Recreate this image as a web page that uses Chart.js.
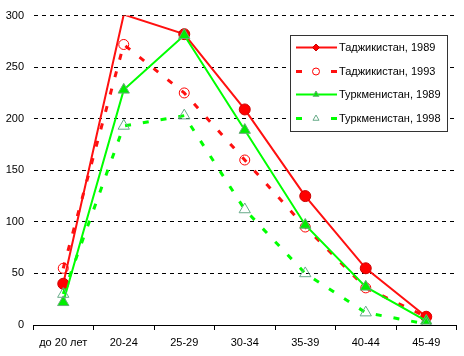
<!DOCTYPE html>
<html><head><meta charset="utf-8">
<script src="https://cdn.jsdelivr.net/npm/chart.js@4"></script>
<style>html,body{margin:0;padding:0;background:#fff}#wrap{width:464px;height:356px}</style>
</head><body><div id="wrap"><canvas id="c" width="464" height="356"></canvas></div>
<script>
const categories = ['до 20 лет','20-24','25-29','30-34','35-39','40-44','45-49'];
const tajik1989 = [40, 301, 282, 209, 125, 55, 8];
const tajik1993 = [55, 272, 225, 160, 95, 36, 8];
const turkm1989 = [22, 228, 281, 189, 97, 37, 4];
const turkm1998 = [30, 193, 203, 112, 50, 12, 1];
const seriesNames = ['Таджикистан, 1989','Таджикистан, 1993','Туркменистан, 1989','Туркменистан, 1998'];
const yTicks = [0,50,100,150,200,250,300];

const FONT = 'Liberation Sans, Arial, sans-serif';
Chart.defaults.font.family = FONT;
Chart.defaults.font.size = 11;
Chart.defaults.color = '#000';

const datasets = [
  {label: seriesNames[0], data: tajik1989, borderColor:'#ff1010', borderWidth:2,
   pointStyle:'circle', pointRadius:[5.5,0,5.5,5.5,5.5,5.5,5.5], pointBackgroundColor:'#ff0000', pointBorderColor:'#cc0000', pointBorderWidth:1, legendMarker:'rectRot', order:4},
  {label: seriesNames[1], data: tajik1993, borderColor:'#ff1010', borderWidth:3, borderDash:[6,12],
   pointStyle:'circle', pointRadius:5, pointBackgroundColor:'rgba(0,0,0,0)', pointBorderColor:'#ff0000', pointBorderWidth:1, order:3},
  {label: seriesNames[2], data: turkm1989, borderColor:'#00ff00', borderWidth:2,
   pointStyle:'triangle', pointRadius:6.5, pointBackgroundColor:'#00ee00', pointBorderColor:'#66aa77', pointBorderWidth:1, order:2},
  {label: seriesNames[3], data: turkm1998, borderColor:'#00ff00', borderWidth:3, borderDash:[6,12],
   pointStyle:'triangle', pointRadius:6.5, pointBackgroundColor:'rgba(0,0,0,0)', pointBorderColor:'#66aa88', pointBorderWidth:1, order:1}
];
datasets.forEach(d=>{d.fill=false;d.tension=0;d.pointHoverRadius=d.pointRadius;});

const legendPlugin = {
  id:'boxLegend',
  afterDraw(chart){
    const ctx = chart.ctx;
    const x0=290.5, y0=35.5, w=157, h=96;
    ctx.save();
    ctx.fillStyle='#fff';
    ctx.fillRect(x0,y0,w,h);
    ctx.strokeStyle='#333'; ctx.lineWidth=1; ctx.setLineDash([]);
    ctx.strokeRect(x0,y0,w,h);
    const rows=[47.5,71.5,94.5,118.5];
    chart.data.datasets.forEach((ds,i)=>{
      const y=rows[i];
      ctx.strokeStyle=ds.borderColor; ctx.lineWidth=ds.borderWidth;
      ctx.setLineDash([]);
      ctx.beginPath();
      if(ds.borderDash){
        ctx.moveTo(296,y);ctx.lineTo(302,y);ctx.moveTo(331,y);ctx.lineTo(337,y);
      } else {
        ctx.moveTo(296,y);ctx.lineTo(337,y);
      }
      ctx.stroke();
      ctx.fillStyle=ds.pointBackgroundColor; ctx.strokeStyle=ds.pointBorderColor;
      ctx.lineWidth=1;
      Chart.helpers.drawPoint(ctx,{pointStyle: ds.legendMarker||ds.pointStyle, radius:3.5, borderWidth:1, rotation:0},316,y);
      ctx.fillStyle='#000';
      ctx.font='11px '+FONT;
      ctx.textBaseline='middle'; ctx.textAlign='left';
      ctx.fillText(ds.label,339,y+0.5);
    });
    ctx.restore();
  }
};

new Chart(document.getElementById('c'),{
  type:'line',
  data:{labels:categories, datasets},
  options:{
    responsive:false, animation:false,
    layout:{padding:{top:15,right:4,left:0,bottom:0}},
    plugins:{legend:{display:false}, tooltip:{enabled:false}},
    scales:{
      x:{
        offset:true,
        grid:{offset:true, drawOnChartArea:false, drawTicks:true, tickLength:5, color:'#000'},
        border:{display:true,color:'#000',width:1},
        ticks:{padding:6, maxRotation:0, autoSkip:false},
        afterFit(s){s.height=31;}
      },
      y:{
        min:0,max:300,
        afterBuildTicks(s){s.ticks=yTicks.map(v=>({value:v}));},
        grid:{color:'#000', drawTicks:false, borderDash:[4,4]},
        border:{display:true, color:'rgba(0,0,0,0)', dash:[4,4]},
        ticks:{padding:9},
        afterFit(s){s.width=33;}
      }
    }
  },
  plugins:[legendPlugin]
});
</script>
</body></html>
